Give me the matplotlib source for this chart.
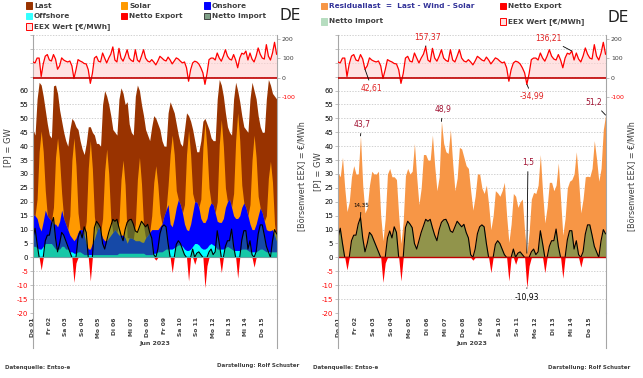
import numpy as np
import matplotlib.pyplot as plt
from matplotlib.patches import Rectangle
from matplotlib.lines import Line2D

# Werte im 3-h-Raster (0, 3, 6, 9, 12, 15, 18, 21 Uhr), 01.-15.06.2023
# Leistung in GW
last = [
    46, 44, 57, 63, 62, 58, 53, 48,
    44, 43, 61.7, 62, 59, 53, 49, 45,
    42, 40, 46, 50, 49, 47, 46, 42,
    39, 37, 41, 47, 47, 45, 44, 41,
    41, 40, 55, 60, 58, 55, 51, 46,
    45, 44, 57, 61, 59, 55, 56, 48,
    45, 44, 58, 62, 60, 55, 51, 46,
    44, 42, 47, 51, 50, 48, 46, 42,
    40, 40, 52, 56, 54, 52, 48, 44,
    41, 40, 46, 52, 51, 49, 46, 42,
    38, 38, 42, 49, 50, 48, 46, 43,
    42, 42, 57, 64, 62, 58, 52, 47,
    45, 44, 57, 63, 60, 56, 51, 47,
    46, 45, 57, 63, 60, 57, 51, 47,
    45, 45, 57, 64, 62, 59, 58, 57,
]
solar = [
    0, 0, 7, 27, 36, 25, 7, 0,
    0, 0, 6, 24, 32, 22, 6, 0,
    0, 0, 7, 28, 37, 26, 7, 0,
    0, 0, 8, 29, 39, 27, 8, 0,
    0, 0, 7, 25, 33, 23, 6, 0,
    0, 0, 5, 20, 27, 19, 2, 0,
    0, 0, 6, 22, 30, 21, 6, 0,
    0, 0, 5, 17, 23, 16, 5, 0,
    0, 0, 7, 25, 33, 23, 6, 0,
    0, 0, 7, 27, 36, 25, 7, 0,
    0, 0, 7, 27, 36, 25, 7, 0,
    0, 0, 7, 28, 37, 26, 7, 0,
    0, 0, 8, 28, 38, 27, 8, 0,
    0, 0, 7, 25, 34, 24, 7, 0,
    0, 0, 5, 19, 25, 17, 4, 0,
]
onshore = [
    11.5, 11, 10.5, 8, 6.5, 9, 12, 10,
    9, 8, 8, 9, 8, 10, 13, 10,
    9, 7, 6, 5, 4.5, 5.5, 7, 8,
    8.5, 7, 4, 2, 2, 4, 5.6, 8,
    10, 8, 6, 5, 5, 6, 7, 8,
    9, 8, 6.5, 6.5, 6.5, 5.5, 3.6, 5.5,
    5.5, 5.1, 4.5, 4.5, 4.5, 4, 3.9, 6,
    7, 8, 9, 8.5, 8.5, 8, 9, 10,
    12.5, 14, 16, 9, 8, 10.5, 14, 16.3,
    14.5, 12, 9, 7.5, 7.1, 9, 12, 15,
    15, 13.5, 10.5, 9.6, 9.5, 10.5, 13.5, 14.6,
    14.5, 12, 10, 9.6, 9.6, 11, 14.5, 16,
    17.5, 15, 12.5, 11.5, 11.5, 12.5, 15, 16.6,
    15, 12.5, 10, 8, 8, 10, 12.5, 14.8,
    13, 10.5, 8, 7.6, 7.6, 8, 6, 3.8,
]
offshore = [
    4, 4, 3.5, 3, 3, 4, 5, 5,
    5, 5, 4, 3, 3, 3, 4, 4,
    3, 3, 2, 2, 1.5, 1.5, 2, 2,
    1.5, 1, 1, 1, 1, 1, 1, 1,
    1, 1, 1, 1, 1, 1, 1, 1,
    1, 1, 1.5, 1.5, 1.5, 1.5, 1.5, 1.5,
    1.5, 1.5, 1.5, 1.5, 1.5, 1.5, 1.5, 1,
    1, 1, 1, 1.5, 1.5, 2, 2, 2,
    2.5, 3, 3, 3, 3, 3.5, 4, 4.5,
    4.5, 4, 3, 2.5, 2.5, 3, 4, 5,
    5, 4.5, 3.5, 3, 3, 3.5, 4.5, 5,
    4.5, 4, 3, 3, 3, 3, 3.5, 4,
    3.5, 3, 2.5, 2.5, 2.5, 2.5, 3, 3,
    3, 2.5, 2, 2, 2, 2, 2.5, 3,
    3, 2.5, 2, 2, 2, 2, 2, 2,
]
# Netto: positiv = Import, negativ = Export
netto = [
    7, 10.5, 5, 0, -4.5, 0, 6, 8,
    8, 12, 14.35, 7, 2, 5, 9, 8,
    6, 4, 2, 0, -9, -2, 7, 9.5,
    7, 11, 9, 0, -8.5, 0, 10.7, 13,
    12, 10.7, 5, 3, 6, 9, 11.3, 13.7,
    13, 13.7, 10.7, 8, 6, 10, 12.6, 13.5,
    13.7, 12, 9.5, 9, 11, 13, 12, 11,
    11.9, 9, 7, 1, -1, 3, 8.5, 11,
    11.7, 11, 5, 0, -5.5, 0, 4.7, 6,
    5, 3, 1, 0, -8.5, 0, 3, -2.5,
    1.5, 2, 1, 0, -10.93, -3, 2, 3,
    1, 2, 9.6, 5, -5.5, 0, 4, 6,
    6, 10.2, 4, 0, -7.5, 0, 6.3, 9.6,
    9.6, 3, 6, 1, -3.5, 2, 8.4, 11.7,
    11.7, 8, 4, 2, 0, 6, 10, 8.5,
]
# EEX Preis in EUR/MWh
preis = [
    80, 75, 100, 100, 5, 70, 110, 118,
    90, 85, 118, 95, 42.61, 60, 101, 90,
    84, 80, 85, 60, -5, 40, 92, 85,
    80, 72, 70, 40, -30, 20, 100, 109,
    84, 80, 126, 100, 75, 100, 120, 157.37,
    90, 80, 150, 100, 84, 110, 143, 100,
    88, 82, 143, 90, 80, 110, 143, 100,
    85, 80, 92, 80, 65, 85, 109, 100,
    90, 85, 105, 90, 70, 85, 101, 95,
    84, 75, 80, 50, -19, 40, 75, 84,
    80, 70, 50, 24, -34.99, 20, 92, 100,
    100, 90, 126, 100, 84, 110, 143, 110,
    95, 90, 118, 90, 50, 100, 125, 120,
    136.21, 90, 126, 95, 80, 110, 152, 120,
    100, 95, 169, 110, 90, 126, 181, 120,
]
tage = ["Do 01", "Fr 02", "Sa 03", "So 04", "Mo 05", "Di 06", "Mi 07", "Do 08",
        "Fr 09", "Sa 10", "So 11", "Mo 12", "Di 13", "Mi 14", "Do 15"]

last = np.array(last, float)
solar = np.array(solar, float)
onshore = np.array(onshore, float)
offshore = np.array(offshore, float)
netto = np.array(netto, float)
preis = np.array(preis, float)
t = np.arange(len(last)) * 3 / 24

wind = onshore + offshore
residual = last - wind - solar
imp = np.clip(netto, 0, None)
exp_ = np.clip(netto, None, 0)

W, H = 643, 378
fig = plt.figure(figsize=(W / 100, H / 100), dpi=100)
GRAY = '#A6A6A6'
TXT = '#404040'


def fx(x):
    return x / W


def fy(y):
    return 1 - y / H


def p_lim(m):
    return (m - 64.7) * 200 / 14


def make_axes(x0, x1):
    ax = fig.add_axes([fx(x0), fy(313), (x1 - x0) / W, 278 / H])
    ax.set_xlim(0, 14.9)
    ax.set_ylim(-20, 80)
    ticks = np.arange(-20, 81, 5)
    ax.set_yticks(ticks)
    ax.set_yticklabels([str(v) if v <= 60 else '' for v in ticks], fontsize=5)
    for lab, v in zip(ax.get_yticklabels(), ticks):
        lab.set_color('red' if v < 0 else 'black')
    ax.yaxis.grid(True, color='#BFBFBF', lw=0.5, ls=(0, (2, 2)))
    ax.set_axisbelow(True)
    ax.set_xticks(np.arange(15))
    ax.set_xticklabels(tage, rotation=90, fontsize=4.3, fontweight='bold', color=TXT)
    ax.tick_params(axis='x', length=0, pad=3)
    ax.tick_params(axis='y', length=2, width=0.5, color=GRAY, pad=1.5)
    for s in ['top', 'bottom']:
        ax.spines[s].set_visible(False)
    for s in ['left', 'right']:
        ax.spines[s].set_color(GRAY)
        ax.spines[s].set_linewidth(0.8)

    ax2 = ax.twinx()
    ax2.set_ylim(p_lim(-20), p_lim(80))
    ax2.set_yticks([-100, 0, 100, 200])
    ax2.set_yticklabels(['-100', '0', '100', '200'], fontsize=4.5)
    for lab, v in zip(ax2.get_yticklabels(), [-100, 0, 100, 200]):
        lab.set_color('red' if v < 0 else TXT)
    ax2.tick_params(axis='y', length=2, width=0.5, color=GRAY, pad=1.5)
    for s in ax2.spines.values():
        s.set_visible(False)
    ax2.fill_between(t, preis, 0, color='#FFD0D0', alpha=0.6, lw=0)
    ax2.plot(t, preis, color='#FF0000', lw=0.9)
    ax2.axhline(0, color='#C00000', lw=1.2)

    # Kategorie-Achse nach unten verlaengert
    for x in (x0, x1):
        fig.add_artist(Line2D([fx(x), fx(x)], [fy(313), fy(348)], color=GRAY, lw=0.8))
    fig.text(fx((x0 + x1) / 2), fy(343), 'Jun 2023', fontsize=4.5, fontweight='bold',
             color=TXT, ha='center', va='center')
    return ax, ax2


IMP_COL = '#2D9350'

# linkes Diagramm
ax, ax2 = make_axes(33, 277)
ax.fill_between(t, 0, last, color='#993300', lw=0)
ax.fill_between(t, 0, wind + solar, color='#FF9900', lw=0)
ax.fill_between(t, 0, wind, color='#0000FF', lw=0)
ax.fill_between(t, 0, offshore, color='#00FFFF', lw=0)
ax.fill_between(t, 0, imp, color=IMP_COL, alpha=0.5, lw=0)
ax.plot(t, imp, color='black', lw=0.8)
ax.fill_between(t, exp_, 0, color='#FF0000', lw=0)
ax.axhline(0, color='#6FA3A3', lw=0.8)

# rechtes Diagramm
bx, bx2 = make_axes(338, 606)
bx.fill_between(t, 0, residual, color='#F79646', lw=0)
bx.fill_between(t, 0, imp, color=IMP_COL, alpha=0.5, lw=0)
bx.plot(t, imp, color='black', lw=0.8)
bx.fill_between(t, exp_, 0, color='#FF0000', lw=0)
bx.axhline(0, color='#C00000', lw=1.0)


def note(a, i, y, text, dx, dy, color, fs=5.5):
    a.annotate(text, xy=(t[i], y), xytext=(dx, dy), textcoords='offset points',
               fontsize=fs, color=color, ha='center', va='center',
               arrowprops=dict(arrowstyle='-', color='black', lw=0.6, shrinkA=1, shrinkB=0))


RED = '#E02020'
DRED = '#A01030'
i_max = int(np.argmax(preis[:64]))
note(bx2, i_max, preis[i_max], '157,37', 1, 7, RED)
i = 104
note(bx2, i, preis[i], '136,21', -17, 9, RED)
i = 12
note(bx2, i, preis[i], '42,61', 5, -14, RED)
i_min = int(np.argmin(preis))
note(bx2, i_min, preis[i_min], '-34,99', 4, -9, RED)
i = 10
note(bx, i, residual[i], '43,7', 1, 8, DRED)
i = 46
note(bx, i, residual[i], '48,9', 1, 8.5, DRED)
i = len(t) - 1
note(bx, i, residual[i], '51,2', -8.5, 9, DRED)
i_r = int(np.argmin(residual))
note(bx, i_r, residual[i_r], '1,5', 0.8, 65, DRED)
i_imp = int(np.argmax(imp))
note(bx, i_imp, imp[i_imp], '14,35', 0.5, 8.5, 'black', fs=4)
i_exp = int(np.argmin(exp_))
note(bx, i_exp, exp_[i_exp], '-10,93', 0, -6.7, 'black')


# Legenden
def legend_item(x, y, label, face, edge=None, color=TXT):
    fig.add_artist(Rectangle((fx(x - 3), fy(y + 3)), 6 / W, 6 / H, transform=fig.transFigure,
                             facecolor=face, edgecolor=edge if edge else face, lw=0.7))
    fig.text(fx(x + 5), fy(y), label, fontsize=5.3, fontweight='bold', color=color,
             va='center', ha='left')


legend_item(29, 5.5, 'Last', '#993300')
legend_item(124, 5.5, 'Solar', '#FF9900')
legend_item(207, 5.5, 'Onshore', '#0000FF')
legend_item(29, 16, 'Offshore', '#33FFFF')
legend_item(124, 16, 'Netto Export', '#FF0000')
legend_item(207, 16, 'Netto Import', '#7FA088', '#404040')
legend_item(29, 26.5, 'EEX Wert [€/MWh]', '#FFE0E0', '#FF0000')

legend_item(324, 6, 'Residuallast  =  Last - Wind - Solar', '#F79646', color='#333399')
legend_item(503, 6, 'Netto Export', '#FF0000')
legend_item(324, 21.5, 'Netto Import', '#B6DDC0')
legend_item(503, 21.5, 'EEX Wert [€/MWh]', '#FFE0E0', '#FF0000')

fig.text(fx(290), fy(16), 'DE', fontsize=11, ha='center', va='center', color='#202020')
fig.text(fx(618), fy(17), 'DE', fontsize=11, ha='center', va='center', color='#202020')

# Achsentitel
fig.text(fx(8), fy(148), '[P] = GW', rotation=90, fontsize=6, ha='center', va='center', color=TXT)
fig.text(fx(302), fy(176), '[Börsenwert EEX] = €/MWh', rotation=90, fontsize=5.8,
         ha='center', va='center', color=TXT)
fig.text(fx(318), fy(172), '[P] = GW', rotation=90, fontsize=6, ha='center', va='center', color=TXT)
fig.text(fx(632), fy(176), '[Börsenwert EEX] = €/MWh', rotation=90, fontsize=5.8,
         ha='center', va='center', color=TXT)

# Fusszeile
fig.text(fx(5), fy(368), 'Datenquelle: Entso-e', fontsize=4, fontweight='bold', color=TXT, va='center')
fig.text(fx(299), fy(366), 'Darstellung: Rolf Schuster', fontsize=4, fontweight='bold', color=TXT,
         va='center', ha='right')
fig.text(fx(313), fy(368), 'Datenquelle: Entso-e', fontsize=4, fontweight='bold', color=TXT, va='center')
fig.text(fx(630), fy(367), 'Darstellung: Rolf Schuster', fontsize=4, fontweight='bold', color=TXT,
         va='center', ha='right')

fig.savefig('out.png', dpi=100)
